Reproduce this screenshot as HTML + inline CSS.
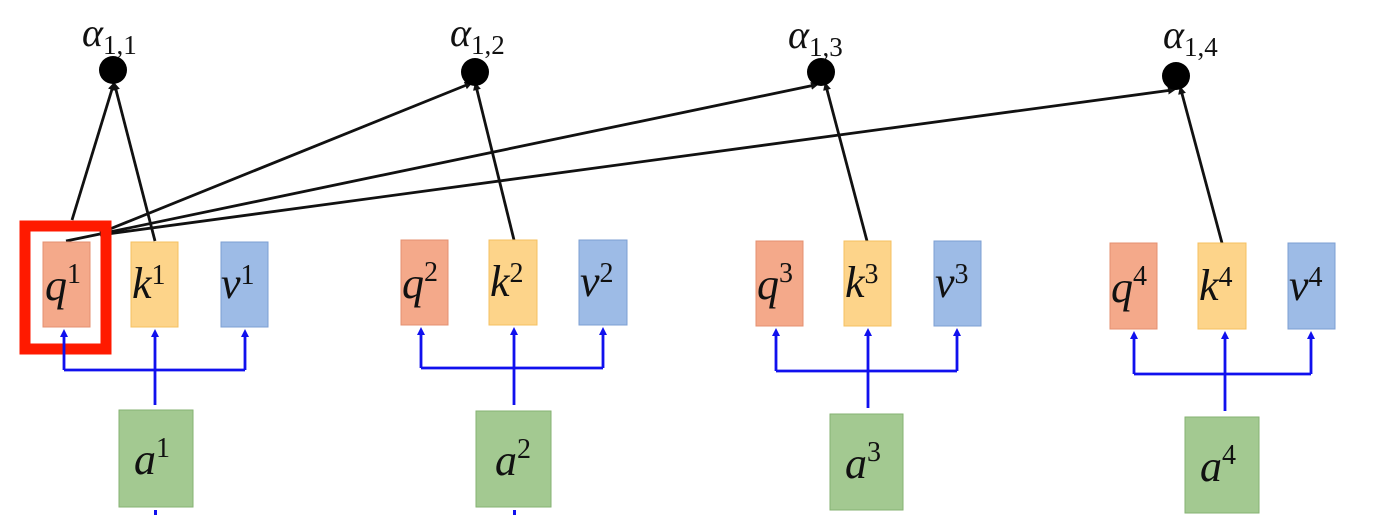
<!DOCTYPE html>
<html><head><meta charset="utf-8"><style>
html,body{margin:0;padding:0;background:#fff;}
svg{display:block;}
text{font-family:"Liberation Serif","DejaVu Serif",serif;font-style:italic;fill:#111;}
</style></head><body>
<svg width="1374" height="515" viewBox="0 0 1374 515" xmlns="http://www.w3.org/2000/svg">
<defs>
<marker id="ab" markerWidth="8" markerHeight="8" refX="4" refY="4" orient="auto" markerUnits="userSpaceOnUse"><path d="M0,0 L8,4 L0,8 z" fill="#111"/></marker>
</defs>
<g stroke="#111" stroke-width="2.8" fill="none">
<line x1="72" y1="220" x2="113" y2="86" marker-end="url(#ab)"/>
<line x1="155" y1="241" x2="115" y2="86" marker-end="url(#ab)"/>
<path d="M66,241 L100,234"/>
<line x1="100" y1="233" x2="469" y2="84" marker-end="url(#ab)"/>
<line x1="100" y1="234" x2="815" y2="85" marker-end="url(#ab)"/>
<line x1="100" y1="235" x2="1172" y2="90" marker-end="url(#ab)"/>
<line x1="514" y1="240" x2="476" y2="86" marker-end="url(#ab)"/>
<line x1="867" y1="241" x2="826" y2="86" marker-end="url(#ab)"/>
<line x1="1222" y1="243" x2="1181" y2="90" marker-end="url(#ab)"/>
</g>
<g fill="#000">
<circle cx="113" cy="70" r="14"/><circle cx="475" cy="72" r="14"/><circle cx="821" cy="72" r="14"/><circle cx="1176" cy="76" r="14"/>
</g>
<g font-size="40">
<text x="82" y="46">α<tspan font-size="27" font-style="normal" dy="8">1,1</tspan></text>
<text x="450" y="46">α<tspan font-size="27" font-style="normal" dy="8">1,2</tspan></text>
<text x="788" y="48">α<tspan font-size="27" font-style="normal" dy="8">1,3</tspan></text>
<text x="1163" y="48">α<tspan font-size="27" font-style="normal" dy="8">1,4</tspan></text>
</g>
<rect x="25" y="226" width="81" height="123" fill="none" stroke="#ff1a00" stroke-width="11"/>
<g stroke-width="1">
<rect x="43" y="242" width="47" height="85" fill="#f4a98a" stroke="#e49070"/>
<rect x="131" y="242" width="47" height="85" fill="#fdd48a" stroke="#f5c060"/>
<rect x="221" y="242" width="47" height="85" fill="#9dbbe6" stroke="#7c9fd3"/>
<rect x="119" y="410" width="74" height="97" fill="#a3c991" stroke="#86b272"/>
<rect x="401" y="240" width="47" height="85" fill="#f4a98a" stroke="#e49070"/>
<rect x="489" y="240" width="48" height="85" fill="#fdd48a" stroke="#f5c060"/>
<rect x="579" y="240" width="48" height="85" fill="#9dbbe6" stroke="#7c9fd3"/>
<rect x="476" y="411" width="75" height="96" fill="#a3c991" stroke="#86b272"/>
<rect x="756" y="241" width="47" height="85" fill="#f4a98a" stroke="#e49070"/>
<rect x="844" y="241" width="47" height="85" fill="#fdd48a" stroke="#f5c060"/>
<rect x="934" y="241" width="47" height="85" fill="#9dbbe6" stroke="#7c9fd3"/>
<rect x="830" y="414" width="73" height="96" fill="#a3c991" stroke="#86b272"/>
<rect x="1110" y="243" width="47" height="86" fill="#f4a98a" stroke="#e49070"/>
<rect x="1198" y="243" width="48" height="86" fill="#fdd48a" stroke="#f5c060"/>
<rect x="1288" y="243" width="47" height="86" fill="#9dbbe6" stroke="#7c9fd3"/>
<rect x="1185" y="417" width="74" height="96" fill="#a3c991" stroke="#86b272"/>
</g>
<g stroke="#1010ee" stroke-width="2.8" fill="none">
<path d="M64,370 H245 M155,405 V332 M64,370 V332 M245,370 V332" />
<path d="M421,368 H603 M514,405 V330 M421,368 V330 M603,368 V330"/>
<path d="M776,371 H957 M868,408 V331 M776,371 V331 M957,371 V331"/>
<path d="M1134,374 H1311 M1225,411 V334 M1134,374 V334 M1311,374 V334"/>
</g>
<g fill="#1010ee">
<path d="M64,329 l-4,8 h8z"/><path d="M155,329 l-4,8 h8z"/><path d="M245,329 l-4,8 h8z"/>
<path d="M421,327 l-4,8 h8z"/><path d="M514,327 l-4,8 h8z"/><path d="M603,327 l-4,8 h8z"/>
<path d="M776,328 l-4,8 h8z"/><path d="M868,328 l-4,8 h8z"/><path d="M957,328 l-4,8 h8z"/>
<path d="M1134,331 l-4,8 h8z"/><path d="M1225,331 l-4,8 h8z"/><path d="M1311,331 l-4,8 h8z"/>
<rect x="154" y="510" width="3" height="5"/><rect x="513" y="510" width="3" height="5"/>
</g>
<g font-size="44">
<text x="45" y="300">q<tspan font-size="28" font-style="normal" dy="-17">1</tspan></text>
<text x="132" y="298">k<tspan font-size="28" font-style="normal" dy="-14">1</tspan></text>
<text x="221" y="298">v<tspan font-size="28" font-style="normal" dy="-14">1</tspan></text>
<text x="134" y="474">a<tspan font-size="28" font-style="normal" dy="-17">1</tspan></text>
<text x="402" y="298">q<tspan font-size="28" font-style="normal" dy="-17">2</tspan></text>
<text x="490" y="296">k<tspan font-size="28" font-style="normal" dy="-14">2</tspan></text>
<text x="580" y="296">v<tspan font-size="28" font-style="normal" dy="-14">2</tspan></text>
<text x="495" y="475">a<tspan font-size="28" font-style="normal" dy="-17">2</tspan></text>
<text x="757" y="299">q<tspan font-size="28" font-style="normal" dy="-17">3</tspan></text>
<text x="845" y="297">k<tspan font-size="28" font-style="normal" dy="-14">3</tspan></text>
<text x="935" y="297">v<tspan font-size="28" font-style="normal" dy="-14">3</tspan></text>
<text x="845" y="478">a<tspan font-size="28" font-style="normal" dy="-17">3</tspan></text>
<text x="1111" y="302">q<tspan font-size="28" font-style="normal" dy="-17">4</tspan></text>
<text x="1199" y="300">k<tspan font-size="28" font-style="normal" dy="-14">4</tspan></text>
<text x="1289" y="300">v<tspan font-size="28" font-style="normal" dy="-14">4</tspan></text>
<text x="1200" y="481">a<tspan font-size="28" font-style="normal" dy="-17">4</tspan></text>
</g>
</svg>
</body></html>
